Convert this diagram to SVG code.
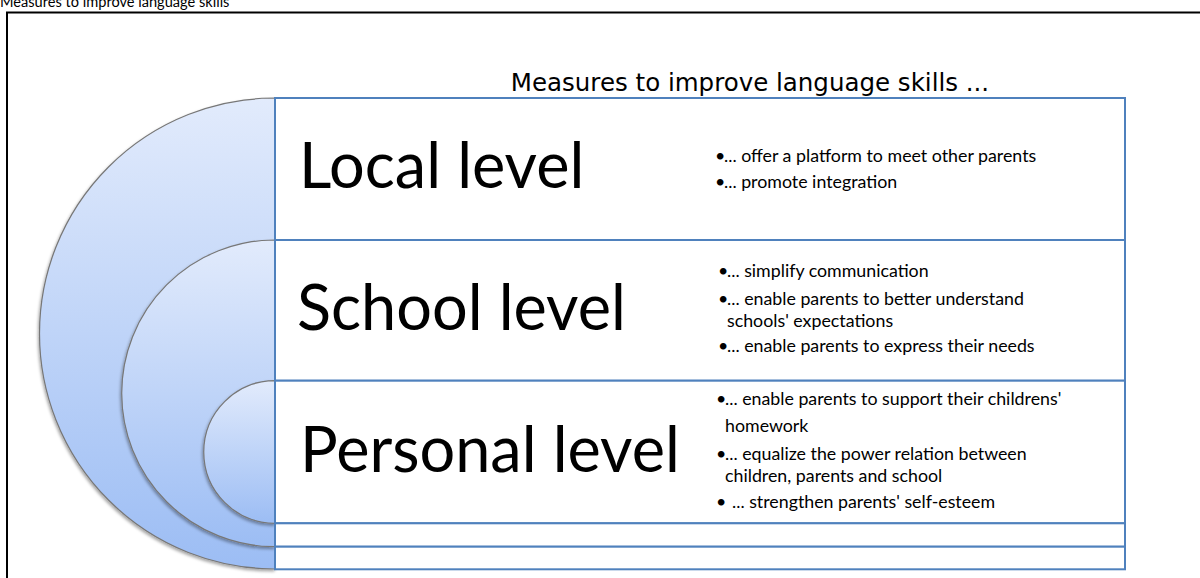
<svg xmlns="http://www.w3.org/2000/svg" width="1200" height="578" viewBox="0 0 1200 578">
<style>
.lvl{font-family:Lato,"Liberation Sans",sans-serif;font-size:63px;fill:#000}
.bul{font-family:Lato,"Liberation Sans",sans-serif;font-size:17.8px;fill:#000}
.arc{stroke:#777;stroke-width:1.2;filter:url(#sh)}
.row{fill:#fff;stroke:#4f81bd;stroke-width:2}
</style>
<defs>
<linearGradient id="g" x1="0" y1="0" x2="0" y2="1">
<stop offset="0" stop-color="#e2ebfc"/>
<stop offset="1" stop-color="#9cbdf4"/>
</linearGradient>
<filter id="sh" x="-20%" y="-20%" width="140%" height="140%">
<feDropShadow dx="-1" dy="2" stdDeviation="1.5" flood-color="#000" flood-opacity="0.35"/>
</filter>
</defs>
<rect width="1200" height="578" fill="#fff"/>
<text x="0" y="6.5" font-family="Lato,sans-serif" font-size="14.6" fill="#000">Measures to improve language skills</text>
<path d="M1200,12.5 H7 V578" fill="none" stroke="#000" stroke-width="2"/>
<text x="750" y="91" text-anchor="middle" font-family="'DejaVu Sans',sans-serif" font-size="24.5" fill="#000">Measures to improve language skills ...</text>
<g id="arcs">
<path class="arc" d="M275,98 A235.5,235.5 0 0 0 275,569 Z" fill="url(#g)"/>
<path class="arc" d="M275,240 A153.3,153.3 0 0 0 275,546.7 Z" fill="url(#g)"/>
<path class="arc" d="M275,380.7 A71.3,71.3 0 0 0 275,523.3 Z" fill="url(#g)"/>
</g>
<g id="local">
<rect class="row" x="275" y="98" width="850" height="142"/>
<text class="lvl" x="299" y="188">Local level</text>
<text class="bul" y="162"><tspan x="715">•</tspan><tspan x="724">... offer a platform to meet other parents</tspan></text>
<text class="bul" y="188"><tspan x="715">•</tspan><tspan x="724">... promote integration</tspan></text>
</g>
<g id="school">
<rect class="row" x="275" y="240" width="850" height="140.7"/>
<text class="lvl" x="297" y="330">School level</text>
<text class="bul" y="277"><tspan x="718">•</tspan><tspan x="727">... simplify communication</tspan></text>
<text class="bul" y="305"><tspan x="718">•</tspan><tspan x="727">... enable parents to better understand</tspan></text>
<text class="bul" x="727" y="327">schools' expectations</text>
<text class="bul" y="352"><tspan x="718">•</tspan><tspan x="727">... enable parents to express their needs</tspan></text>
</g>
<g id="personal">
<rect class="row" x="275" y="380.7" width="850" height="142.6"/>
<text class="lvl" x="300" y="472">Personal level</text>
<text class="bul" y="405"><tspan x="716">•</tspan><tspan x="725">... enable parents to support their childrens'</tspan></text>
<text class="bul" x="725" y="432">homework</text>
<text class="bul" y="460"><tspan x="716">•</tspan><tspan x="725">... equalize the power relation between</tspan></text>
<text class="bul" x="725" y="482">children, parents and school</text>
<text class="bul" y="508"><tspan x="716">•</tspan><tspan x="732">... strengthen parents' self-esteem</tspan></text>
</g>
<g id="row4"><rect class="row" x="275" y="523.3" width="850" height="23.4"/></g>
<g id="row5"><rect class="row" x="275" y="546.7" width="850" height="22.6"/></g>
<g id="connectors"/>
</svg>
